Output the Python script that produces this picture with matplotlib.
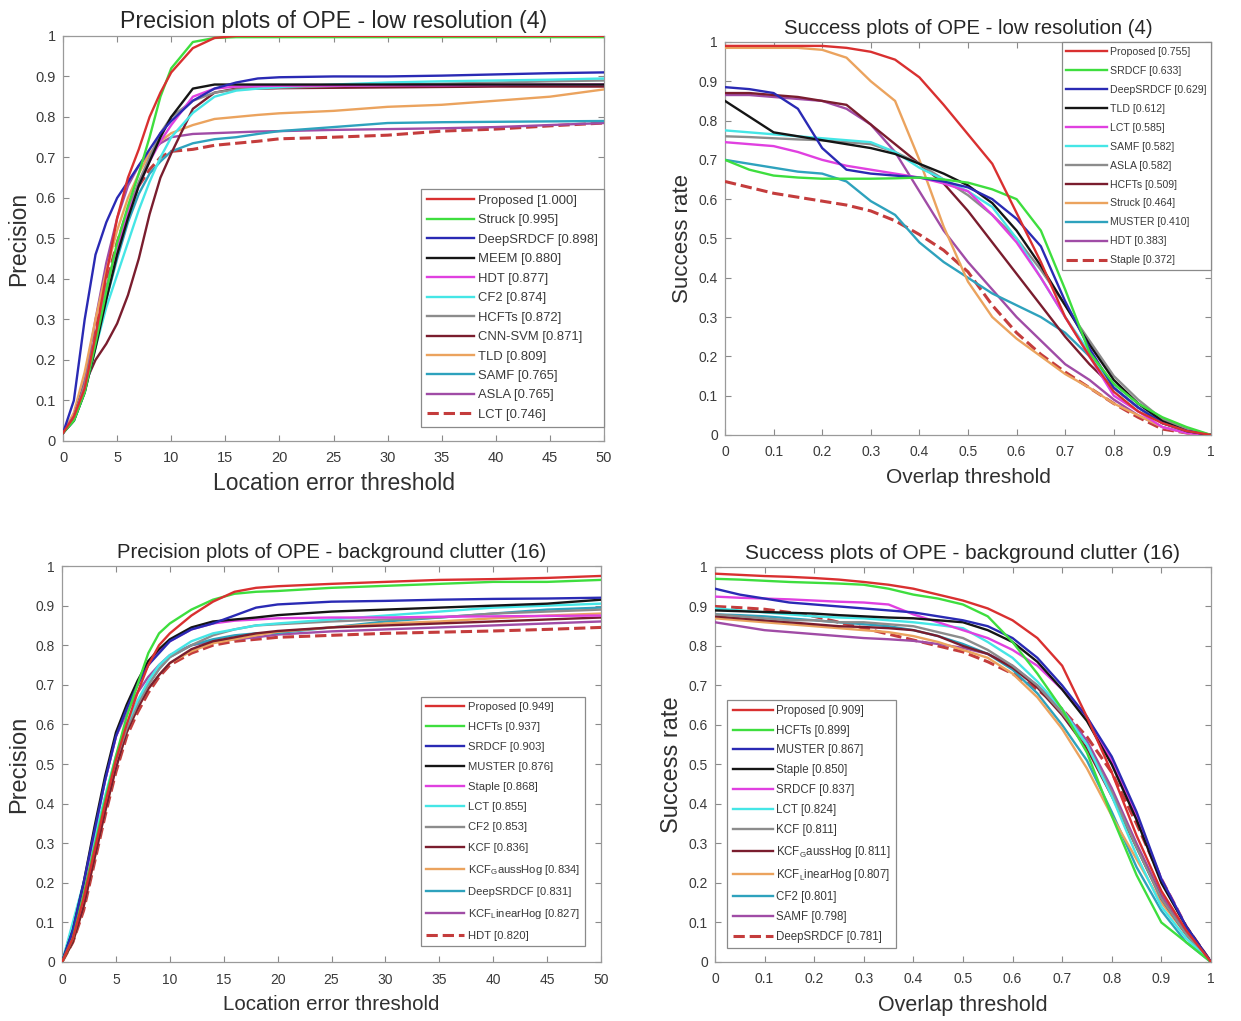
import matplotlib.pyplot as plt
import numpy as np

plt.rcParams['font.family'] = ['Liberation Sans', 'DejaVu Sans']
plt.rcParams['mathtext.fontset'] = 'custom'
plt.rcParams['mathtext.rm'] = 'Liberation Sans'

# --------------------------------------------------------------------------
# Data
PREC_X = [0, 1, 2, 3, 4, 5, 6, 7, 8, 9, 10, 12, 14, 16, 18, 20, 25, 30, 35, 40, 45, 50]
SUCC_X = [0, 0.05, 0.1, 0.15, 0.2, 0.25, 0.3, 0.35, 0.4, 0.45, 0.5,
          0.55, 0.6, 0.65, 0.7, 0.75, 0.8, 0.85, 0.9, 0.95, 1.0]

# precision - low resolution
lr_prec_names = ['Proposed', 'Struck', 'DeepSRDCF', 'MEEM', 'HDT', 'CF2', 'HCFTs',
                 'CNN-SVM', 'TLD', 'SAMF', 'ASLA', 'LCT']
lr_prec_scores = [1.000, 0.995, 0.898, 0.880, 0.877, 0.874, 0.872, 0.871, 0.809, 0.765, 0.765, 0.746]
lr_prec = [
    [0.02, 0.06, 0.13, 0.26, 0.41, 0.55, 0.65, 0.72, 0.80, 0.86, 0.91, 0.97, 0.995, 1, 1, 1, 1, 1, 1, 1, 1, 1],
    [0.02, 0.05, 0.12, 0.24, 0.37, 0.49, 0.58, 0.66, 0.75, 0.85, 0.92, 0.985, 0.995, 0.997, 0.997, 0.997, 0.997, 0.997, 0.997, 0.997, 0.997, 0.997],
    [0.02, 0.10, 0.30, 0.46, 0.54, 0.60, 0.64, 0.68, 0.72, 0.76, 0.79, 0.84, 0.87, 0.885, 0.895, 0.898, 0.90, 0.90, 0.902, 0.905, 0.908, 0.91],
    [0.02, 0.05, 0.12, 0.23, 0.35, 0.46, 0.55, 0.63, 0.69, 0.75, 0.80, 0.87, 0.88, 0.88, 0.88, 0.88, 0.88, 0.88, 0.88, 0.88, 0.88, 0.88],
    [0.02, 0.06, 0.13, 0.25, 0.37, 0.47, 0.56, 0.63, 0.69, 0.74, 0.78, 0.85, 0.87, 0.875, 0.876, 0.877, 0.877, 0.878, 0.878, 0.879, 0.88, 0.88],
    [0.02, 0.05, 0.12, 0.23, 0.33, 0.41, 0.49, 0.57, 0.64, 0.70, 0.75, 0.81, 0.85, 0.865, 0.87, 0.874, 0.88, 0.885, 0.888, 0.89, 0.892, 0.895],
    [0.02, 0.06, 0.14, 0.26, 0.38, 0.48, 0.57, 0.64, 0.70, 0.76, 0.80, 0.84, 0.86, 0.868, 0.87, 0.872, 0.876, 0.88, 0.882, 0.885, 0.888, 0.89],
    [0.02, 0.06, 0.14, 0.20, 0.24, 0.29, 0.36, 0.45, 0.56, 0.65, 0.71, 0.82, 0.86, 0.87, 0.87, 0.871, 0.872, 0.873, 0.874, 0.875, 0.875, 0.875],
    [0.02, 0.07, 0.17, 0.30, 0.42, 0.52, 0.60, 0.66, 0.71, 0.74, 0.76, 0.78, 0.795, 0.80, 0.805, 0.809, 0.815, 0.825, 0.83, 0.84, 0.85, 0.868],
    [0.02, 0.05, 0.12, 0.24, 0.35, 0.45, 0.54, 0.61, 0.66, 0.69, 0.715, 0.735, 0.745, 0.75, 0.758, 0.765, 0.775, 0.785, 0.787, 0.788, 0.789, 0.79],
    [0.02, 0.06, 0.15, 0.30, 0.44, 0.55, 0.63, 0.68, 0.71, 0.735, 0.75, 0.758, 0.76, 0.762, 0.764, 0.765, 0.768, 0.77, 0.772, 0.775, 0.78, 0.785],
    [0.02, 0.06, 0.14, 0.27, 0.39, 0.49, 0.57, 0.63, 0.67, 0.70, 0.715, 0.72, 0.73, 0.735, 0.74, 0.746, 0.75, 0.755, 0.765, 0.77, 0.778, 0.785],
]

# success - low resolution
lr_succ_names = ['Proposed', 'SRDCF', 'DeepSRDCF', 'TLD', 'LCT', 'SAMF', 'ASLA', 'HCFTs',
                 'Struck', 'MUSTER', 'HDT', 'Staple']
lr_succ_scores = [0.755, 0.633, 0.629, 0.612, 0.585, 0.582, 0.582, 0.509, 0.464, 0.410, 0.383, 0.372]
lr_succ = [
    [0.99, 0.99, 0.99, 0.99, 0.99, 0.985, 0.975, 0.955, 0.91, 0.84, 0.765, 0.69, 0.565, 0.44, 0.30, 0.20, 0.11, 0.06, 0.03, 0.01, 0.0],
    [0.70, 0.675, 0.66, 0.655, 0.652, 0.652, 0.652, 0.653, 0.655, 0.65, 0.642, 0.625, 0.60, 0.52, 0.37, 0.21, 0.13, 0.08, 0.045, 0.02, 0.0],
    [0.885, 0.88, 0.87, 0.83, 0.73, 0.675, 0.665, 0.66, 0.655, 0.645, 0.63, 0.60, 0.55, 0.48, 0.34, 0.22, 0.12, 0.07, 0.03, 0.01, 0.0],
    [0.85, 0.81, 0.77, 0.76, 0.75, 0.74, 0.73, 0.715, 0.69, 0.665, 0.635, 0.59, 0.52, 0.43, 0.33, 0.23, 0.14, 0.08, 0.035, 0.01, 0.0],
    [0.745, 0.74, 0.735, 0.72, 0.70, 0.685, 0.675, 0.665, 0.655, 0.64, 0.62, 0.56, 0.49, 0.40, 0.30, 0.20, 0.10, 0.06, 0.02, 0.005, 0.0],
    [0.775, 0.77, 0.765, 0.76, 0.755, 0.75, 0.745, 0.72, 0.68, 0.65, 0.62, 0.58, 0.50, 0.40, 0.30, 0.21, 0.12, 0.07, 0.03, 0.01, 0.0],
    [0.76, 0.758, 0.755, 0.752, 0.75, 0.745, 0.74, 0.72, 0.69, 0.65, 0.61, 0.56, 0.50, 0.42, 0.33, 0.24, 0.15, 0.09, 0.04, 0.015, 0.0],
    [0.87, 0.87, 0.865, 0.86, 0.85, 0.84, 0.79, 0.74, 0.69, 0.64, 0.57, 0.49, 0.41, 0.33, 0.25, 0.18, 0.12, 0.07, 0.03, 0.01, 0.0],
    [0.985, 0.985, 0.985, 0.985, 0.98, 0.96, 0.90, 0.85, 0.70, 0.53, 0.39, 0.30, 0.245, 0.20, 0.155, 0.12, 0.08, 0.05, 0.02, 0.005, 0.0],
    [0.70, 0.69, 0.68, 0.67, 0.665, 0.645, 0.595, 0.56, 0.49, 0.44, 0.40, 0.36, 0.33, 0.30, 0.26, 0.20, 0.13, 0.08, 0.04, 0.01, 0.0],
    [0.865, 0.865, 0.86, 0.855, 0.85, 0.83, 0.79, 0.72, 0.62, 0.52, 0.44, 0.37, 0.30, 0.24, 0.18, 0.14, 0.09, 0.05, 0.02, 0.005, 0.0],
    [0.645, 0.63, 0.615, 0.605, 0.595, 0.585, 0.57, 0.545, 0.51, 0.47, 0.415, 0.33, 0.26, 0.205, 0.16, 0.12, 0.08, 0.045, 0.015, 0.005, 0.0],
]

# precision - background clutter
bc_prec_names = ['Proposed', 'HCFTs', 'SRDCF', 'MUSTER', 'Staple', 'LCT', 'CF2', 'KCF',
                 'KCF$_{\\mathrm{G}}$aussHog', 'DeepSRDCF', 'KCF$_{\\mathrm{L}}$inearHog', 'HDT']
bc_prec_scores = [0.949, 0.937, 0.903, 0.876, 0.868, 0.855, 0.853, 0.836, 0.834, 0.831, 0.827, 0.820]
bc_prec = [
    [0.0, 0.06, 0.16, 0.28, 0.40, 0.51, 0.60, 0.68, 0.75, 0.80, 0.83, 0.875, 0.91, 0.935, 0.945, 0.949, 0.955, 0.96, 0.965, 0.967, 0.97, 0.975],
    [0.0, 0.06, 0.17, 0.29, 0.41, 0.52, 0.62, 0.70, 0.78, 0.83, 0.855, 0.89, 0.915, 0.93, 0.935, 0.937, 0.945, 0.95, 0.955, 0.96, 0.96, 0.965],
    [0.0, 0.08, 0.20, 0.33, 0.46, 0.57, 0.64, 0.70, 0.75, 0.78, 0.81, 0.84, 0.855, 0.875, 0.895, 0.903, 0.91, 0.912, 0.915, 0.917, 0.918, 0.92],
    [0.0, 0.08, 0.20, 0.34, 0.47, 0.58, 0.65, 0.71, 0.76, 0.79, 0.815, 0.845, 0.86, 0.865, 0.87, 0.876, 0.885, 0.89, 0.895, 0.90, 0.905, 0.915],
    [0.0, 0.07, 0.19, 0.33, 0.46, 0.57, 0.64, 0.70, 0.75, 0.785, 0.81, 0.84, 0.855, 0.862, 0.865, 0.868, 0.87, 0.87, 0.872, 0.873, 0.874, 0.875],
    [0.0, 0.10, 0.20, 0.31, 0.42, 0.52, 0.60, 0.66, 0.71, 0.75, 0.775, 0.81, 0.83, 0.84, 0.85, 0.855, 0.865, 0.875, 0.885, 0.895, 0.90, 0.905],
    [0.0, 0.08, 0.18, 0.30, 0.41, 0.51, 0.59, 0.65, 0.70, 0.74, 0.77, 0.80, 0.825, 0.84, 0.85, 0.853, 0.86, 0.865, 0.87, 0.88, 0.885, 0.89],
    [0.0, 0.05, 0.14, 0.26, 0.38, 0.49, 0.58, 0.64, 0.69, 0.725, 0.755, 0.79, 0.81, 0.82, 0.83, 0.836, 0.845, 0.85, 0.855, 0.86, 0.865, 0.87],
    [0.0, 0.05, 0.14, 0.26, 0.38, 0.49, 0.58, 0.64, 0.69, 0.725, 0.755, 0.785, 0.805, 0.815, 0.825, 0.834, 0.845, 0.855, 0.86, 0.868, 0.875, 0.88],
    [0.0, 0.09, 0.19, 0.30, 0.41, 0.51, 0.59, 0.65, 0.70, 0.74, 0.77, 0.80, 0.815, 0.825, 0.83, 0.831, 0.845, 0.86, 0.87, 0.88, 0.89, 0.895],
    [0.0, 0.07, 0.19, 0.33, 0.46, 0.57, 0.63, 0.68, 0.72, 0.75, 0.775, 0.80, 0.81, 0.815, 0.82, 0.827, 0.835, 0.84, 0.845, 0.85, 0.855, 0.86],
    [0.0, 0.05, 0.13, 0.25, 0.37, 0.48, 0.57, 0.63, 0.68, 0.72, 0.75, 0.78, 0.80, 0.81, 0.815, 0.82, 0.825, 0.83, 0.833, 0.836, 0.84, 0.845],
]

# success - background clutter
bc_succ_names = ['Proposed', 'HCFTs', 'MUSTER', 'Staple', 'SRDCF', 'LCT', 'KCF',
                 'KCF$_{\\mathrm{G}}$aussHog', 'KCF$_{\\mathrm{L}}$inearHog', 'CF2', 'SAMF', 'DeepSRDCF']
bc_succ_scores = [0.909, 0.899, 0.867, 0.850, 0.837, 0.824, 0.811, 0.811, 0.807, 0.801, 0.798, 0.781]
bc_succ = [
    [0.983, 0.98, 0.977, 0.975, 0.972, 0.968, 0.962, 0.955, 0.945, 0.93, 0.915, 0.895, 0.865, 0.82, 0.75, 0.62, 0.48, 0.32, 0.18, 0.08, 0.0],
    [0.97, 0.968, 0.965, 0.962, 0.96, 0.958, 0.955, 0.945, 0.93, 0.92, 0.905, 0.875, 0.81, 0.73, 0.64, 0.53, 0.37, 0.22, 0.10, 0.05, 0.0],
    [0.945, 0.93, 0.92, 0.91, 0.905, 0.90, 0.895, 0.89, 0.885, 0.875, 0.865, 0.85, 0.82, 0.77, 0.70, 0.62, 0.52, 0.38, 0.21, 0.09, 0.0],
    [0.89, 0.888, 0.886, 0.884, 0.882, 0.878, 0.875, 0.872, 0.87, 0.865, 0.86, 0.84, 0.81, 0.76, 0.69, 0.61, 0.50, 0.36, 0.20, 0.09, 0.0],
    [0.925, 0.922, 0.92, 0.918, 0.915, 0.912, 0.91, 0.905, 0.88, 0.86, 0.84, 0.82, 0.79, 0.75, 0.69, 0.62, 0.51, 0.37, 0.21, 0.09, 0.0],
    [0.895, 0.89, 0.885, 0.88, 0.875, 0.872, 0.87, 0.865, 0.86, 0.853, 0.845, 0.81, 0.77, 0.71, 0.64, 0.55, 0.42, 0.27, 0.14, 0.06, 0.0],
    [0.88, 0.875, 0.87, 0.865, 0.865, 0.86, 0.86, 0.855, 0.85, 0.835, 0.82, 0.79, 0.75, 0.70, 0.63, 0.55, 0.43, 0.29, 0.16, 0.07, 0.0],
    [0.875, 0.87, 0.865, 0.86, 0.855, 0.85, 0.848, 0.845, 0.84, 0.825, 0.80, 0.78, 0.745, 0.695, 0.625, 0.54, 0.42, 0.29, 0.16, 0.07, 0.0],
    [0.87, 0.865, 0.86, 0.855, 0.85, 0.845, 0.84, 0.835, 0.825, 0.81, 0.79, 0.77, 0.73, 0.67, 0.59, 0.49, 0.37, 0.26, 0.15, 0.07, 0.0],
    [0.88, 0.878, 0.875, 0.87, 0.865, 0.86, 0.855, 0.85, 0.84, 0.825, 0.805, 0.78, 0.74, 0.68, 0.60, 0.51, 0.38, 0.24, 0.13, 0.05, 0.0],
    [0.86, 0.85, 0.84, 0.835, 0.83, 0.825, 0.82, 0.817, 0.813, 0.805, 0.795, 0.78, 0.75, 0.70, 0.64, 0.56, 0.44, 0.30, 0.17, 0.08, 0.0],
    [0.90, 0.897, 0.893, 0.885, 0.875, 0.86, 0.845, 0.83, 0.815, 0.80, 0.785, 0.76, 0.73, 0.69, 0.64, 0.57, 0.48, 0.35, 0.21, 0.09, 0.0],
]

# line styles, in legend order (OTB style)
mycols = ['#d93030', '#3ede3e', '#2a2ab4', '#151515', '#e040e0', '#45e6e6',
          '#8c8c8c', '#7a1d2e', '#eba35e', '#2ea2bd', '#a04ca6', '#c43c3c']
mystyles = ['-'] * 11 + ['--']


def draw_panel(ax, x, curves, names, scores, title, xlabel, ylabel, xticks, xticklabels,
               leg_loc, leg_anchor, sz):
    for i, (y, nm, sc) in enumerate(zip(curves, names, scores)):
        ax.plot(x, y, mystyles[i], color=mycols[i], lw=1.7 if i < 11 else 2.2,
                label=f'{nm} [{sc:.3f}]', zorder=20 - i)

    ax.set_xlim(xticks[0], xticks[-1])
    ax.set_ylim(0, 1)
    ax.set_xticks(xticks)
    ax.set_xticklabels(xticklabels)
    ax.set_yticks(np.arange(0, 1.01, 0.1))
    ax.set_yticklabels(['0'] + [f'{v:.1f}' for v in np.arange(0.1, 0.95, 0.1)] + ['1'])
    ax.tick_params(direction='in', top=True, right=True, length=4, width=0.8,
                   colors='#8a8a8a', labelcolor='#3a3a3a', labelsize=sz['tick'])
    ax.tick_params(axis='x', pad=sz['xpad'])
    ax.tick_params(axis='y', pad=5)
    for sp in ax.spines.values():
        sp.set_color('#9a9a9a')
        sp.set_linewidth(0.9)

    ax.set_title(title, fontsize=sz['title'], color='#262626', pad=6)
    ax.set_xlabel(xlabel, fontsize=sz['xlab'], color='#303030', labelpad=sz['xlpad'])
    ax.set_ylabel(ylabel, fontsize=sz['ylab'], color='#303030', labelpad=4)

    leg = ax.legend(loc=leg_loc, bbox_to_anchor=leg_anchor, fontsize=sz['leg'],
                    handlelength=sz['hl'], handletextpad=0.3, labelspacing=sz['ls'],
                    borderpad=0.45, borderaxespad=0.0, fancybox=False, framealpha=1)
    leg.get_frame().set_edgecolor('#8a8a8a')
    leg.get_frame().set_linewidth(0.9)
    for t in leg.get_texts():
        t.set_color('#3a3a3a')


fig = plt.figure(figsize=(12.41, 10.21), dpi=100)

prec_ticks = list(range(0, 51, 5))
succ_ticks = [round(v, 1) for v in np.arange(0, 1.01, 0.1)]
succ_labels = ['0'] + [f'{v:.1f}' for v in succ_ticks[1:-1]] + ['1']

ax1 = fig.add_axes([0.0508, 0.5681, 0.4359, 0.3967])
draw_panel(ax1, PREC_X, lr_prec, lr_prec_names, lr_prec_scores,
           'Precision plots of OPE - low resolution (4)', 'Location error threshold', 'Precision',
           prec_ticks, [str(t) for t in prec_ticks], 'lower right', (1.0, 0.035),
           dict(title=16.7, xlab=16.5, ylab=16.5, tick=10.5, xpad=7, xlpad=5,
                leg=9.4, hl=3.6, ls=0.56))

ax2 = fig.add_axes([0.5842, 0.5740, 0.3916, 0.3849])
draw_panel(ax2, SUCC_X, lr_succ, lr_succ_names, lr_succ_scores,
           'Success plots of OPE - low resolution (4)', 'Overlap threshold', 'Success rate',
           succ_ticks, succ_labels, 'upper right', (1.0, 1.0),
           dict(title=14.6, xlab=15, ylab=16, tick=10, xpad=7, xlpad=7,
                leg=7.6, hl=3.8, ls=0.85))

ax3 = fig.add_axes([0.0500, 0.0578, 0.4343, 0.3878])
draw_panel(ax3, PREC_X, bc_prec, bc_prec_names, bc_prec_scores,
           'Precision plots of OPE - background clutter (16)', 'Location error threshold', 'Precision',
           prec_ticks, [str(t) for t in prec_ticks], 'lower right', (0.97, 0.04),
           dict(title=14.6, xlab=14.8, ylab=17, tick=10, xpad=8, xlpad=6,
                leg=8.1, hl=3.4, ls=0.9))

ax4 = fig.add_axes([0.5761, 0.0578, 0.3997, 0.3869])
draw_panel(ax4, SUCC_X, bc_succ, bc_succ_names, bc_succ_scores,
           'Success plots of OPE - background clutter (16)', 'Overlap threshold', 'Success rate',
           succ_ticks, succ_labels, 'lower left', (0.025, 0.035),
           dict(title=15, xlab=15.5, ylab=17, tick=10, xpad=7, xlpad=7,
                leg=8.3, hl=3.5, ls=0.68))

fig.savefig('out.png', dpi=100)
plt.close(fig)
